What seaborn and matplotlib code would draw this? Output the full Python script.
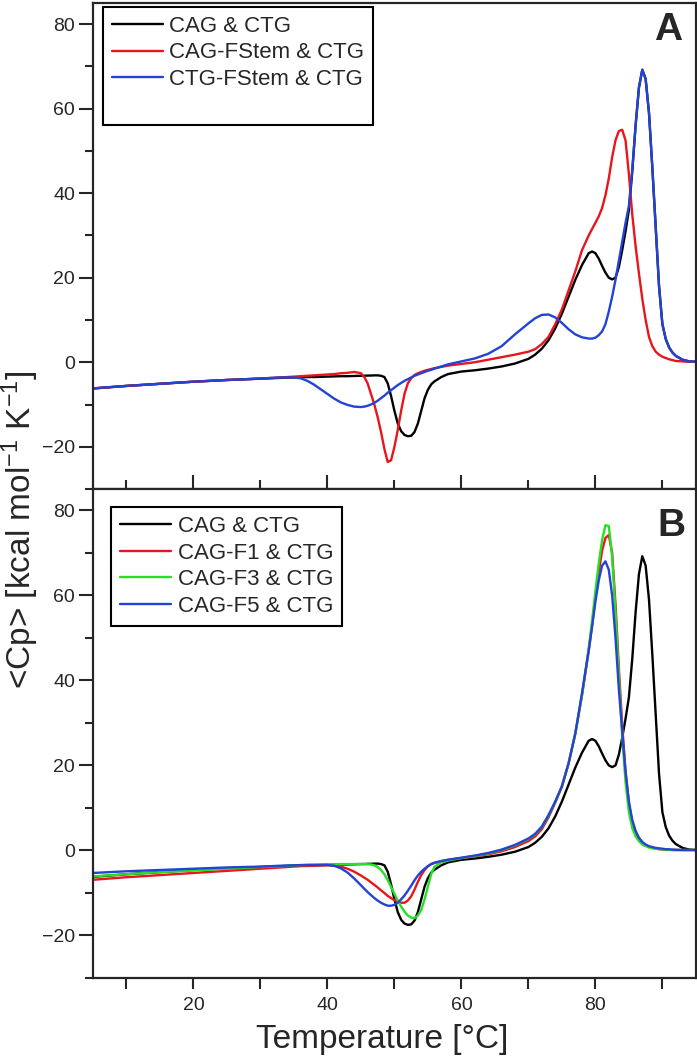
import numpy as np
import pandas as pd
import matplotlib
matplotlib.use('Agg')
import matplotlib.pyplot as plt
from matplotlib.lines import Line2D
from matplotlib.ticker import MultipleLocator
import seaborn as sns

# temperature grid (deg C) shared by all traces
temp = [5, 10, 15, 20, 25, 30,
        33, 35, 36, 37, 38, 39, 40, 41, 42, 43, 44, 45,
        45.5, 46, 46.5, 47, 47.5, 48, 48.5, 49, 49.5, 50,
        50.5, 51, 51.5, 52, 52.5, 53, 53.5, 54, 54.5, 55,
        55.5, 56, 57, 58, 60, 62, 64, 66, 68, 70,
        71, 72, 73, 74, 75, 76, 77, 78, 79, 79.5,
        80, 80.5, 81, 81.5, 82, 82.5, 83, 83.5, 84, 84.5,
        85, 85.5, 86, 86.5, 87, 87.5, 88, 88.5, 89, 89.5,
        90, 90.5, 91, 91.5, 92, 93, 94, 95]

# <Cp> in kcal/mol/K
cag_ctg = [-6.2, -5.6, -5.1, -4.6, -4.2, -3.9,
           -3.7, -3.6, -3.55, -3.5, -3.5, -3.45, -3.4, -3.35, -3.3, -3.3, -3.25, -3.2,
           -3.2, -3.15, -3.15, -3.1, -3.1, -3.2, -3.5, -5.0, -8.0, -11.5,
           -14.5, -16.3, -17.2, -17.5, -17.4, -16.5, -14.5, -11.5, -8.5, -6.5,
           -5.2, -4.5, -3.5, -2.8, -2.2, -1.9, -1.5, -1.0, -0.3, 0.8,
           1.8, 3.2, 5.2, 8.0, 11.5, 15.5, 19.5, 23.0, 25.8, 26.2,
           25.8, 24.5, 22.8, 21.2, 20.0, 19.6, 20.0, 22.5, 26.5, 31.0,
           36.0, 45.0, 56.0, 65.0, 69.2, 67.0, 59.0, 46.0, 32.0, 18.0,
           9.0, 5.5, 3.5, 2.3, 1.5, 0.6, 0.2, 0.1]

cag_fstem = [-6.2, -5.6, -5.1, -4.6, -4.2, -3.85,
             -3.6, -3.4, -3.3, -3.2, -3.1, -3.0, -2.9, -2.8, -2.6, -2.5, -2.3, -2.6,
             -3.5, -5.0, -7.5, -10.0, -13.0, -16.5, -20.5, -23.6, -23.2, -20.0,
             -16.0, -11.5, -7.5, -5.0, -3.8, -3.0, -2.6, -2.3, -2.0, -1.8,
             -1.6, -1.4, -1.1, -0.8, -0.4, 0.0, 0.6, 1.2, 1.8, 2.5,
             3.1, 4.3, 6.0, 9.0, 12.5, 17.0, 21.5, 26.5, 30.0, 31.5,
             33.0, 34.5, 36.5, 39.5, 43.5, 48.5, 52.5, 54.7, 55.0, 52.5,
             44.5, 35.0, 27.5, 21.0, 15.0, 10.0, 6.0, 3.8, 2.5, 1.8,
             1.3, 1.0, 0.7, 0.5, 0.3, 0.2, 0.1, 0.1]

ctg_fstem = [-6.2, -5.6, -5.1, -4.6, -4.2, -3.85,
             -3.6, -3.6, -3.8, -4.4, -5.3, -6.4, -7.5, -8.6, -9.5, -10.1, -10.5, -10.6,
             -10.5, -10.3, -10.0, -9.6, -9.1, -8.5, -7.9, -7.2, -6.6, -6.0,
             -5.4, -4.9, -4.4, -4.0, -3.6, -3.2, -2.9, -2.6, -2.3, -2.0,
             -1.8, -1.5, -1.0, -0.5, 0.2, 0.9, 2.0, 3.8, 6.6, 9.2,
             10.4, 11.2, 11.3, 10.6, 9.3, 7.8, 6.6, 5.9, 5.6, 5.6,
             5.8, 6.4, 7.3, 9.0, 12.0, 15.5, 19.5, 24.0, 28.5, 33.0,
             37.0, 45.5, 56.0, 65.0, 69.2, 67.0, 59.0, 46.0, 32.0, 18.0,
             9.0, 5.5, 3.5, 2.3, 1.5, 0.6, 0.2, 0.1]

cag_f1 = [-6.9, -6.3, -5.8, -5.3, -4.8, -4.3,
          -4.0, -3.8, -3.7, -3.65, -3.6, -3.55, -3.5, -3.6, -3.8, -4.3, -5.0, -5.9,
          -6.4, -6.9, -7.5, -8.1, -8.7, -9.4, -10.0, -10.7, -11.2, -11.7,
          -12.1, -12.3, -12.3, -11.8, -10.8, -9.2, -7.4, -5.8, -4.6, -3.7,
          -3.2, -2.9, -2.5, -2.2, -1.8, -1.4, -0.9, -0.2, 0.8, 2.2,
          3.3, 5.0, 7.8, 11.2, 15.2, 20.5, 27.5, 36.5, 47.0, 53.0,
          59.5, 65.5, 70.5, 73.5, 74.2, 70.0, 58.0, 43.0, 29.5, 18.5,
          11.0, 6.6, 4.2, 2.8, 1.8, 1.3, 0.9, 0.6, 0.4, 0.3,
          0.25, 0.2, 0.15, 0.1, 0.1, 0.1, 0.1, 0.1]

cag_f3 = [-6.1, -5.6, -5.1, -4.7, -4.3, -3.9,
          -3.7, -3.5, -3.45, -3.4, -3.35, -3.3, -3.3, -3.25, -3.2, -3.2, -3.2, -3.2,
          -3.2, -3.25, -3.3, -3.5, -3.9, -4.6, -5.6, -7.0, -8.6, -10.2,
          -11.8, -13.2, -14.4, -15.3, -15.8, -15.9, -15.3, -14.0, -11.5, -8.5,
          -5.5, -3.8, -2.8, -2.4, -1.8, -1.3, -0.7, 0.1, 1.2, 2.7,
          3.8, 5.5, 8.2, 11.4, 15.0, 20.5, 27.5, 36.5, 47.5, 54.0,
          61.0, 67.5, 73.0, 76.5, 76.3, 69.0, 56.0, 41.0, 27.0, 16.0,
          9.0, 5.3, 3.3, 2.2, 1.4, 1.0, 0.7, 0.5, 0.4, 0.3,
          0.25, 0.2, 0.15, 0.1, 0.1, 0.1, 0.1, 0.1]

cag_f5 = [-5.3, -4.9, -4.6, -4.3, -4.0, -3.8,
          -3.6, -3.5, -3.45, -3.4, -3.4, -3.4, -3.4, -3.6, -4.2, -5.2, -6.6, -8.2,
          -9.0, -9.8, -10.5, -11.2, -11.8, -12.3, -12.7, -13.0, -13.0, -12.8,
          -12.3, -11.5, -10.6, -9.5, -8.3, -7.0, -5.9, -5.0, -4.3, -3.7,
          -3.2, -2.9, -2.5, -2.2, -1.7, -1.2, -0.6, 0.2, 1.3, 2.8,
          3.9, 5.6, 8.3, 11.5, 15.0, 20.5, 27.5, 37.0, 47.0, 52.5,
          58.5, 63.5, 67.0, 68.0, 66.0, 60.0, 50.0, 38.0, 28.0, 18.5,
          11.5, 7.2, 4.6, 3.0, 2.0, 1.4, 1.0, 0.8, 0.6, 0.5,
          0.4, 0.3, 0.25, 0.2, 0.15, 0.1, 0.1, 0.1]

labels_a = ['CAG & CTG', 'CAG-FStem & CTG', 'CTG-FStem & CTG']
labels_b = ['CAG & CTG', 'CAG-F1 & CTG', 'CAG-F3 & CTG', 'CAG-F5 & CTG']
colors_a = ['#000000', '#e8161c', '#2342d6']
colors_b = ['#000000', '#e8161c', '#25e025', '#2342d6']

sns.set_style('ticks')
plt.rcParams['font.family'] = ['Liberation Sans', 'DejaVu Sans']
plt.rcParams['mathtext.default'] = 'regular'


def long_frame(series, names):
    frames = []
    for vals, name in zip(series, names):
        frames.append(pd.DataFrame({'T': temp, 'Cp': vals, 'sample': name}))
    return pd.concat(frames, ignore_index=True)


df_a = long_frame([cag_ctg, cag_fstem, ctg_fstem], labels_a)
df_b = long_frame([cag_ctg, cag_f1, cag_f3, cag_f5], labels_b)

fig = plt.figure(figsize=(6.97, 10.59), dpi=100)
ax1 = fig.add_axes([0.1334, 0.5382, 0.865, 0.459])
ax2 = fig.add_axes([0.1334, 0.0765, 0.865, 0.4617])

for ax, df, labs, cols in [(ax1, df_a, labels_a, colors_a), (ax2, df_b, labels_b, colors_b)]:
    sns.lineplot(data=df, x='T', y='Cp', hue='sample', hue_order=labs,
                 palette=cols, estimator=None, sort=False, linewidth=1.7, ax=ax)
    ax.set_xlim(5, 95)
    ax.set_ylim(-30, 85)
    ax.xaxis.set_major_locator(MultipleLocator(20))
    ax.xaxis.set_minor_locator(MultipleLocator(10))
    ax.yaxis.set_major_locator(MultipleLocator(20))
    ax.yaxis.set_minor_locator(MultipleLocator(10))
    ax.set_xlabel('')
    ax.set_ylabel('')
    for sp in ax.spines.values():
        sp.set_linewidth(1.6)
        sp.set_visible(True)
    ax.tick_params(axis='y', which='major', direction='out', length=10, width=1.5,
                   labelsize=14, pad=3)
    ax.tick_params(axis='y', which='minor', direction='out', length=6, width=1.5)

ax1.tick_params(axis='x', which='major', direction='inout', length=20, width=1.5,
                labelbottom=False)
ax1.tick_params(axis='x', which='minor', direction='inout', length=13, width=1.5)
ax2.tick_params(axis='x', which='major', direction='out', length=8, width=1.5,
                labelsize=14, pad=6)
ax2.tick_params(axis='x', which='minor', direction='out', length=8, width=1.5)

# legends
leg_kw = dict(loc='upper left', borderaxespad=0, fontsize=16, frameon=True,
              fancybox=False, framealpha=1, edgecolor='black', handlelength=2.3,
              handletextpad=0.3, labelspacing=0.25, borderpad=0.4)

h, l = ax1.get_legend_handles_labels()
h = h + [Line2D([], [], color='none')]
l = l + [' ']
leg = ax1.legend(h, l, bbox_to_anchor=(0.016, 0.992), **leg_kw)
leg.get_frame().set_linewidth(1.5)

h, l = ax2.get_legend_handles_labels()
leg = ax2.legend(h, l, bbox_to_anchor=(0.03, 0.963), **leg_kw)
leg.get_frame().set_linewidth(1.5)

ax1.text(0.978, 0.982, 'A', transform=ax1.transAxes, ha='right', va='top',
         fontsize=28, fontweight='bold')
ax2.text(0.982, 0.962, 'B', transform=ax2.transAxes, ha='right', va='top',
         fontsize=28, fontweight='bold')

fig.text(0.029, 0.5, '<Cp> [kcal mol$^{-1}$ K$^{-1}$]', rotation=90,
         ha='center', va='center', fontsize=24)
fig.text(0.548, 0.018, 'Temperature [°C]', ha='center', va='center', fontsize=24)

fig.savefig('out.png', dpi=100)
